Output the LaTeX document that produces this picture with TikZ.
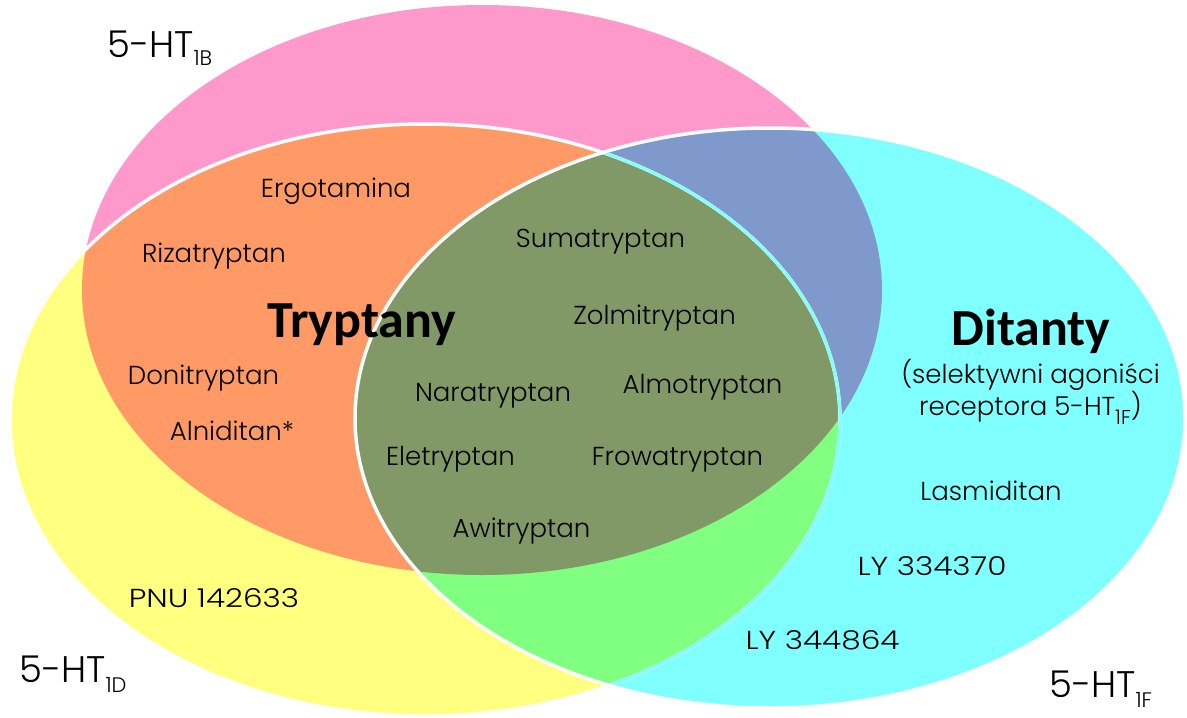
\documentclass[tikz,border=0pt]{standalone}
\usepackage{fontspec}
\setmainfont{Poppins Light}
\newfontfamily\headfont{Carlito}
\definecolor{pinkc}{HTML}{FF99CC}
\definecolor{yellowc}{HTML}{FFFF80}
\definecolor{cyanc}{HTML}{80FFFF}
\definecolor{orangec}{HTML}{FF9966}
\definecolor{bluec}{HTML}{8099CC}
\definecolor{greenc}{HTML}{80FF80}
\definecolor{olivec}{HTML}{809966}
\newcommand{\mysub}[2]{\raisebox{-#1pt}{\fontsize{21}{21}\selectfont #2}}
\newcommand{\widen}[1]{\scalebox{1.2}[1]{#1}}
\tikzset{
  lbl/.style={font=\fontsize{26}{30}\selectfont, anchor=base, inner sep=0pt},
  head/.style={font=\headfont\bfseries\fontsize{52}{60}\selectfont, anchor=base, inner sep=0pt},
  rec/.style={font=\fontsize{37}{40}\selectfont, anchor=base west, inner sep=0pt},
  edge/.style={draw=white, line width=3.5pt}
}
\begin{document}
\begin{tikzpicture}[x=1pt,y=-1pt]
\fill[white] (0,0) rectangle (1187,718);
\useasboundingbox (0,0) rectangle (1187,718);
\begin{scope}
\clip (0,0) rectangle (1187,718);
% base fills
\fill[pinkc] (482,290) ellipse [x radius=400pt, y radius=285pt];
\fill[yellowc] (425,420) ellipse [x radius=415pt, y radius=296pt];
\fill[cyanc] (770,418) ellipse [x radius=415pt, y radius=290pt];
% pairwise overlaps
\begin{scope}
  \clip (482,290) ellipse [x radius=400pt, y radius=285pt];
  \fill[orangec] (425,420) ellipse [x radius=415pt, y radius=296pt];
  \fill[bluec] (770,418) ellipse [x radius=415pt, y radius=290pt];
\end{scope}
\begin{scope}
  \clip (425,420) ellipse [x radius=415pt, y radius=296pt];
  \fill[greenc] (770,418) ellipse [x radius=415pt, y radius=290pt];
\end{scope}
\begin{scope}
  \clip (482,290) ellipse [x radius=400pt, y radius=285pt];
  \clip (425,420) ellipse [x radius=415pt, y radius=296pt];
  \fill[olivec] (770,418) ellipse [x radius=415pt, y radius=290pt];
\end{scope}
% outlines
\draw[edge] (425,420) ellipse [x radius=415pt, y radius=296pt];
\begin{scope}
  \clip (770,418) ellipse [x radius=415pt, y radius=290pt];
  \draw[draw=cyanc, line width=3pt] (425,420) ellipse [x radius=415pt, y radius=296pt];
\end{scope}
\draw[edge] (770,418) ellipse [x radius=415pt, y radius=290pt];
\end{scope}
% set labels
\node[rec] (lb) at (107,57) {5-HT\mysub{8}{1B}};
\node[rec] (ld) at (19,682) {5-HT\mysub{10}{1D}};
\node[rec] (lf) at (1049,697) {5-HT\mysub{10}{1F}};
% headings
\node[head] (tryp) at (361.5,337) {Tryptany};
\node[head] (dit) at (1031,345) {Ditanty};
\node[lbl] (sel1) at (1030.5,383) {(selektywni agoniści};
\node[lbl] (sel2) at (1030.5,415) {receptora 5-HT\raisebox{-9pt}{\fontsize{20}{20}\selectfont 1F})};
% drugs
\node[lbl] (ergo) at (336,197) {Ergotamina};
\node[lbl] (riza) at (214,262) {Rizatryptan};
\node[lbl] (doni) at (203.5,384) {Donitryptan};
\node[lbl] (alni) at (232,440) {Alniditan*};
\node[lbl] (suma) at (600.5,247) {Sumatryptan};
\node[lbl] (zolm) at (654.5,324) {Zolmitryptan};
\node[lbl] (nara) at (493,401) {Naratryptan};
\node[lbl] (almo) at (702.5,393) {Almotryptan};
\node[lbl] (elet) at (450.5,465) {Eletryptan};
\node[lbl] (frow) at (677.5,465) {Frowatryptan};
\node[lbl] (awit) at (521.5,537) {Awitryptan};
\node[lbl] (pnu) at (214,607) {\widen{PNU 142633}};
\node[lbl] (lasm) at (991,500) {Lasmiditan};
\node[lbl] (ly1) at (932,575) {\widen{LY 334370}};
\node[lbl] (ly2) at (822.5,649) {\widen{LY 344864}};
\end{tikzpicture}
\end{document}
